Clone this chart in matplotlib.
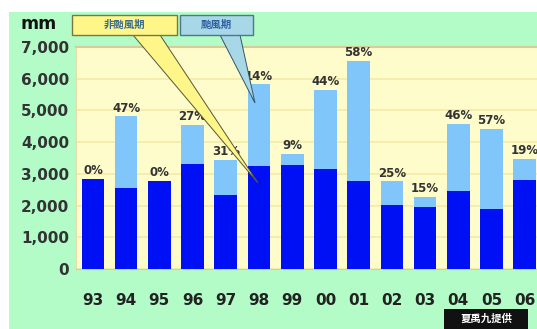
import matplotlib
matplotlib.use("Agg")
import matplotlib.pyplot as plt
from matplotlib.patches import Rectangle, Polygon
import numpy as np

plt.rcParams['font.family'] = ['DejaVu Sans', 'Noto Sans CJK TC']

years = ["93", "94", "95", "96", "97", "98", "99", "00", "01", "02", "03", "04", "05", "06"]
non_typhoon = [2850, 2550, 2770, 3300, 2330, 3250, 3280, 3150, 2760, 2030, 1950, 2450, 1900, 2810]
total = [2850, 4810, 2770, 4550, 3430, 5820, 3620, 5650, 6550, 2760, 2280, 4570, 4420, 3460]
pct_labels = ["0%", "47%", "0%", "27%", "31%", "14%", "9%", "44%", "58%", "25%", "15%", "46%", "57%", "19%"]
yticks = [0, 1000, 2000, 3000, 4000, 5000, 6000, 7000]
ytick_labels = ["0", "1,000", "2,000", "3,000", "4,000", "5,000", "6,000", "7,000"]
legend_labels = ["非颱風期", "颱風期"]
credit = "夏禹九提供"
unit = "mm"

W, H = 537, 329
fig = plt.figure(figsize=(W / 100, H / 100), dpi=100)
fig.patch.set_facecolor("white")

def fx(x):
    return x / W

def fy(y):
    return 1 - y / H

# green background
fig.patches.append(Rectangle((fx(9), 0), 1 - fx(9), fy(12), transform=fig.transFigure,
                             facecolor="#b3fcc8", edgecolor="none", zorder=-10))

ax = fig.add_axes([fx(76), fy(269), 1 - fx(76), fy(47) - fy(269)])
ax.set_facecolor("#fffccc")
x = np.arange(len(years))
typhoon = [t - n for t, n in zip(total, non_typhoon)]
ax.bar(x, non_typhoon, width=0.68, color="#0010f5", zorder=3)
ax.bar(x, typhoon, bottom=non_typhoon, width=0.68, color="#80c6fa", zorder=3)
for xi, t, lab in zip(x, total, pct_labels):
    ax.text(xi, t + 60, lab, ha="center", va="bottom", fontsize=8.5,
            fontweight="bold", color="#333333", zorder=4)

ax.set_xlim(-0.51, 13.37)
ax.set_ylim(0, 7000)
ax.set_yticks(yticks)
ax.set_yticklabels(ytick_labels)
ax.yaxis.grid(True, color="#f3eaa8", linewidth=1.2, zorder=0)
ax.set_xticks(x)
ax.set_xticklabels(years)
ax.tick_params(axis="both", length=0, labelsize=11, labelcolor="#333333")
ax.tick_params(axis="x", pad=17, labelcolor="#222222")
ax.tick_params(axis="y", pad=5)
for lbl in ax.get_xticklabels() + ax.get_yticklabels():
    lbl.set_fontweight("bold")
for side in ["right"]:
    ax.spines[side].set_visible(False)
ax.spines["top"].set_color("#d9cc98")
ax.spines["top"].set_linewidth(1.5)
ax.spines["left"].set_color("#e8dca8")
ax.spines["bottom"].set_color("#d9cc98")

fig.text(fx(20), fy(24), unit, ha="left", va="center", fontsize=12.5,
         fontweight="bold", color="#111111")

# callouts
yel = Polygon([(fx(133), fy(35)), (fx(160), fy(35)), (fx(258), fy(183))],
              closed=True, transform=fig.transFigure, facecolor="#fff68a",
              edgecolor="#555533", linewidth=0.7, zorder=20)
blu = Polygon([(fx(220), fy(35)), (fx(240), fy(35)), (fx(255), fy(103))],
              closed=True, transform=fig.transFigure, facecolor="#a8d8e8",
              edgecolor="#335566", linewidth=0.7, zorder=20)
fig.patches.extend([yel, blu])
fig.patches.append(Rectangle((fx(72), fy(35)), fx(177) - fx(72), fy(15) - fy(35),
                             transform=fig.transFigure, facecolor="#fff68a",
                             edgecolor="#777744", linewidth=1, zorder=21))
fig.patches.append(Rectangle((fx(180), fy(35)), fx(253) - fx(180), fy(15) - fy(35),
                             transform=fig.transFigure, facecolor="#a8d8e8",
                             edgecolor="#4a7a88", linewidth=1, zorder=21))
fig.text(fx(124.5), fy(25), legend_labels[0], ha="center", va="center", fontsize=7.5,
         color="#3b6c8c", family=["Noto Sans CJK TC"], fontweight="bold", zorder=22)
fig.text(fx(216.5), fy(25), legend_labels[1], ha="center", va="center", fontsize=7.5,
         color="#2f5f9f", family=["Noto Sans CJK TC"], fontweight="bold", zorder=22)

# credit box
fig.patches.append(Rectangle((fx(444), 0), fx(528) - fx(444), fy(309),
                             transform=fig.transFigure, facecolor="#111111",
                             edgecolor="none", zorder=21))
fig.text(fx(486), fy(319), credit, ha="center", va="center", fontsize=7.5,
         color="white", family=["Noto Sans CJK TC"], fontweight="bold", zorder=22)

fig.savefig("out.png", dpi=100, facecolor=fig.get_facecolor())
